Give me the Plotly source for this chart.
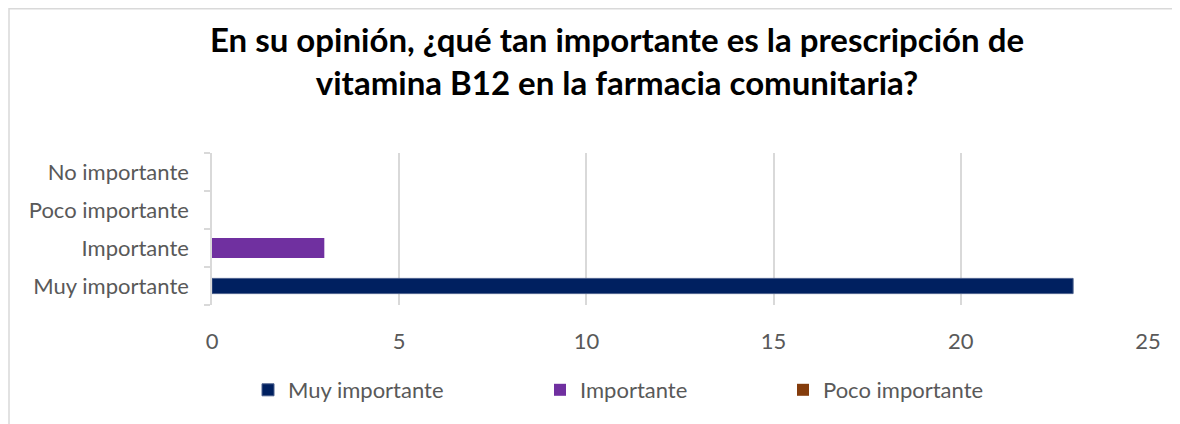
import plotly.graph_objects as go

categorias = ["Muy importante", "Importante", "Poco importante", "No importante"]
series = ["Muy importante", "Importante", "Poco importante"]
valores = [23, 3, 0]
colores = ["#002060", "#7030A0", "#843C0C"]
anchos = [0.40, 0.52, 0.52]

# page body has an 8px margin, so the figure is drawn 8px smaller and shifted
W, H = 1172, 416
L, R, T, B = 204, 32, 145, 119
pw = W - L - R
ph = H - T - B

legend_x = [240, 532, 775]  # px, left edge of each legend entry

fig = go.Figure()
for i, (nombre, v, c, w) in enumerate(zip(series, valores, colores, anchos)):
    fig.add_trace(
        go.Bar(
            y=[nombre],
            x=[v],
            name=nombre,
            orientation="h",
            marker=dict(color=c, line=dict(color="#4a5f8c", width=1 if i == 0 else 0)),
            width=w,
            legend="legend" if i == 0 else f"legend{i + 1}",
        )
    )

# chart border (Excel chart area outline)
fig.add_shape(
    type="rect", xref="paper", yref="paper",
    x0=(1 - L) / pw, x1=(W + 10 - L) / pw,
    y0=(H - B - (H + 10)) / ph, y1=(H - B - 0.8) / ph,
    line=dict(color="#d9d9d9", width=1.5), fillcolor="rgba(0,0,0,0)", layer="below",
)

leg_common = dict(
    orientation="h", xref="container", yref="container", xanchor="left",
    y=1 - 382 / H, yanchor="middle", bgcolor="rgba(0,0,0,0)",
    font=dict(family="Lato, Open Sans, sans-serif", size=22, color="#595959"),
    itemwidth=30,
)

fig.update_layout(
    width=W, height=H,
    margin=dict(l=L, r=R, t=T, b=B),
    paper_bgcolor="white", plot_bgcolor="white",
    barmode="overlay",
    font=dict(family="Lato, Open Sans, sans-serif", size=22, color="#595959"),
    title=dict(
        text="<b>En su opinión, ¿qué tan importante es la prescripción de<br>vitamina B12 en la farmacia comunitaria?</b>",
        x=609 / W, xanchor="center", xref="container",
        y=1 - 44 / H, yanchor="middle", yref="container",
        font=dict(family="Lato, Open Sans, sans-serif", size=33, color="#000000"),
    ),
    legend=dict(x=legend_x[0] / W, **leg_common),
    legend2=dict(x=legend_x[1] / W, **leg_common),
    legend3=dict(x=legend_x[2] / W, **leg_common),
    showlegend=True,
)
fig.update_xaxes(
    range=[0, 25], dtick=5, showgrid=True, gridcolor="#d9d9d9", gridwidth=1.5,
    zeroline=False, showline=False, ticks="", ticklabelstandoff=21,
    tickfont=dict(size=22, color="#595959"),
)
fig.update_yaxes(
    type="category", categoryorder="array", categoryarray=categorias,
    range=[-0.5, 3.5], showline=True, linecolor="#d9d9d9", linewidth=1.5,
    ticks="outside", tickson="boundaries", ticklen=6, tickcolor="#d9d9d9", tickwidth=1.5,
    showgrid=False, ticklabelstandoff=17,
    tickfont=dict(size=22, color="#595959"),
)

fig.write_html("out.html")
